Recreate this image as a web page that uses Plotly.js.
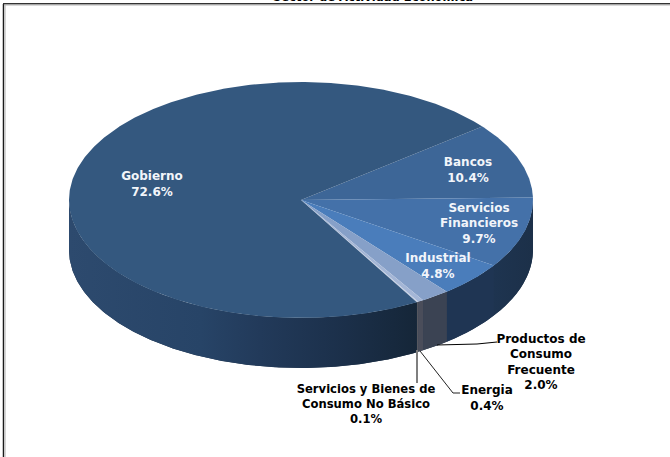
<!DOCTYPE html>
<html>
<head>
<meta charset="utf-8">
<script src="https://cdn.plot.ly/plotly-3.0.1.min.js"></script>
<style>html,body{margin:0;padding:0;background:#fff;overflow:hidden}#c{width:670px;height:457px}</style>
</head>
<body>
<div id="c"></div>
<script>
// Data, clockwise from the Bancos / Gobierno boundary
const categories = ["Bancos","Servicios<br>Financieros","Industrial","Productos de<br>Consumo<br>Frecuente","Energia","Servicios y Bienes de<br>Consumo No Básico","Gobierno"];
const shares = [10.4, 9.7, 4.8, 2.0, 0.4, 0.1, 72.6];
const chartTitle = "Sector de Actividad Económica";

// Styles and layout
const topColors = ["#3d6697","#4471a9","#4a7dbb","#86a0c8","#a4b6d6","#c2cde2","#34587f"];
const sideScales = [
  [[0,"#1e3450"],[1,"#1e3450"]],
  [[0,"#1e3450"],[1,"#1c3049"]],
  [[0,"#1f3553"],[1,"#1f3553"]],
  [[0,"#3b4353"],[1,"#3b4353"]],
  [[0,"#4a4d5a"],[1,"#4a4d5a"]],
  [[0,"#55575f"],[1,"#55575f"]],
  [[0,"#2d4a6e"],[0.38,"#274467"],[0.55,"#223a5a"],[0.8,"#1b2f49"],[1,"#152638"]]
];
const labelAnchors = [[468,171],[479,224.5],[438,267],[541,363],[487,399],[366,405.5],[152,185]];
const labelColors = ["#f2f5fa","#f2f5fa","#f2f5fa","#000","#000","#000","#f2f5fa"];
const labelSizes = [12,12,12,12,12,11.6,12];
const cx = 301, cy = 200, rx = 232, ry = 118, depth = 50, startDeg = 38.6;
const fontFamily = "DejaVu Sans";

const pt = (deg, dy) => [cx + rx*Math.cos(deg*Math.PI/180), cy - ry*Math.sin(deg*Math.PI/180) + dy];
function arc(a, b, dy) {
  const n = Math.max(2, Math.ceil(Math.abs(a-b)/0.5)), out = [];
  for (let i = 0; i <= n; i++) out.push(pt(a + (b-a)*i/n, dy));
  return out;
}
const wall = (p) => ({x:p.map(q=>q[0]), y:p.map(q=>q[1])});
const underlay = arc(0,-180,0).concat(arc(-180,0,depth));
const traces = [Object.assign({type:"scatter", mode:"lines", fill:"toself", line:{width:0}, fillcolor:"#1d3149", hoverinfo:"skip", showlegend:false}, wall(underlay))];
const tops = [];
let ang = startDeg;
shares.forEach((v, i) => {
  const a = ang, b = ang - v*3.6;
  ang = b;
  // visible wall: the part of the slice on the front half of the ellipse
  const sa = Math.min(a, 0), sb = Math.max(b, -180);
  if (sa > sb) {
    const p = arc(sa, sb, 0).concat(arc(sb, sa, depth));
    traces.push({type:"scatter", mode:"lines", x:p.map(q=>q[0]), y:p.map(q=>q[1]), fill:"toself",
      line:{width:0}, fillgradient:{type:"horizontal", colorscale:sideScales[i]}, hoverinfo:"skip", showlegend:false});
  }
  const p = [[cx,cy]].concat(arc(a, b, 0)).concat([[cx,cy]]);
  tops.push({type:"scatter", mode:"lines", x:p.map(q=>q[0]), y:p.map(q=>q[1]), fill:"toself",
    line:{width:0}, fillcolor:topColors[i], name:categories[i].replace(/<br>/g," "), text:v.toFixed(1)+"%", hoverinfo:"name+text", showlegend:false});
});
const labels = {type:"scatter", mode:"text", x:labelAnchors.map(q=>q[0]), y:labelAnchors.map(q=>q[1]),
  text:categories.map((c,i)=>c+"<br>"+shares[i].toFixed(1)+"%"), textposition:"middle center",
  textfont:{family:fontFamily, size:labelSizes, weight:"bold", color:labelColors}, hoverinfo:"skip", showlegend:false, cliponaxis:false};

const seg = (xs, ys, color, width) => ({type:"scatter", mode:"lines", x:xs, y:ys, line:{color:color, width:width}, hoverinfo:"skip", showlegend:false});
const leaders = [
  seg([437,477,497],[345,344,342],"#000",1),
  seg([420,453,460],[351,393,393],"#222",1),
  seg([417,417],[350,383],"#7f7f7f",2)
];

const layout = {
  width:670, height:457, margin:{l:0,r:0,t:0,b:0}, paper_bgcolor:"#fff", plot_bgcolor:"#fff",
  xaxis:{range:[0,670], visible:false, fixedrange:true},
  yaxis:{range:[457,0], visible:false, fixedrange:true},
  shapes:[
    {type:"line",xref:"x",yref:"y",x0:3.5,x1:3.5,y0:4,y1:457,line:{color:"#1a1a1a",width:1.5}},
    {type:"line",xref:"x",yref:"y",x0:5,x1:5,y0:5,y1:457,line:{color:"#c8c8c8",width:1.5}},
    {type:"line",xref:"x",yref:"y",x0:3,x1:670,y0:3.7,y1:3.7,line:{color:"#333",width:1.5}},
    {type:"line",xref:"x",yref:"y",x0:4,x1:670,y0:5,y1:5,line:{color:"#b4b4b4",width:1.2}}
  ],
  annotations:[{xref:"paper",yref:"paper",x:373/670,y:1+3/457,text:chartTitle,showarrow:false,xanchor:"center",yanchor:"middle",
    font:{family:fontFamily,size:11.5,weight:"bold",color:"#000"}}]
};
Plotly.newPlot("c", traces.concat(tops, leaders, [labels]), layout, {staticPlot:true, displayModeBar:false});
</script>
</body>
</html>
